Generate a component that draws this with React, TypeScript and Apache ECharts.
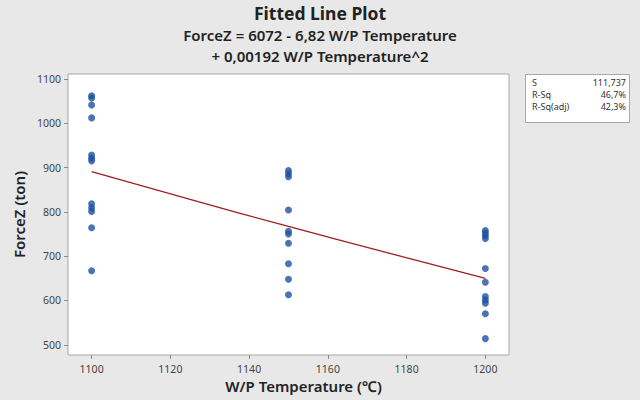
import React, { useEffect, useRef } from "react";
import * as echarts from "echarts";

const temps1100 = [1062, 1057, 1041, 1012, 928, 921, 915, 818, 809, 801, 764, 667];
const temps1150 = [893, 886, 879, 804, 756, 750, 729, 683, 648, 613];
const temps1200 = [758, 752, 746, 740, 672, 641, 609, 601, 594, 570, 514];
const fitX = [1100, 1125, 1150, 1175, 1200];
const fitY = [891, 828, 767, 708, 650];
const xTicks = [1100, 1120, 1140, 1160, 1180, 1200];
const yTicks = [500, 600, 700, 800, 900, 1000, 1100];
const statLabels = ["S", "R-Sq", "R-Sq(adj)"];
const statValues = ["111,737", "46,7%", "42,3%"];
const titleLines = [
  "Fitted Line Plot",
  "ForceZ = 6072 - 6,82 W/P Temperature",
  "+ 0,00192 W/P Temperature^2",
];

const FONT = "'Noto Sans', 'Open Sans', sans-serif";

export default function App() {
  const ref = useRef<HTMLDivElement>(null);
  useEffect(() => {
    if (!ref.current) return;
    const chart = echarts.init(ref.current, undefined, { renderer: "svg" });
    const points: number[][] = [];
    temps1100.forEach((v) => points.push([1100, v]));
    temps1150.forEach((v) => points.push([1150, v]));
    temps1200.forEach((v) => points.push([1200, v]));
    const fit = fitX.map((x, i) => [x, fitY[i]]);

    const statTexts: any[] = [];
    statLabels.forEach((l, i) => {
      statTexts.push({
        type: "text",
        left: 532,
        top: 78 + i * 12,
        style: { text: l, font: `9px ${FONT}`, fill: "#333" },
      });
      statTexts.push({
        type: "text",
        right: 14,
        top: 78 + i * 12,
        style: { text: statValues[i], font: `9px ${FONT}`, fill: "#333", align: "right" },
      });
    });

    chart.setOption({
      animation: false,
      backgroundColor: "#e8e8e8",
      textStyle: { fontFamily: FONT },
      title: [
        {
          text: titleLines[0],
          left: "center",
          top: -1,
          textStyle: { fontSize: 17.5, fontWeight: "bold", color: "#222", fontFamily: FONT },
        },
        {
          text: titleLines[1],
          left: "center",
          top: 22,
          textStyle: { fontSize: 15, fontWeight: 600, color: "#222", fontFamily: FONT },
        },
        {
          text: titleLines[2],
          left: "center",
          top: 43,
          textStyle: { fontSize: 15, fontWeight: 600, color: "#222", fontFamily: FONT },
        },
      ],
      grid: {
        left: 68,
        right: 131,
        top: 74,
        bottom: 45,
        show: true,
        backgroundColor: "#ffffff",
        borderColor: "#a8a8a8",
        borderWidth: 1,
      },
      xAxis: {
        type: "value",
        min: 1094,
        max: 1206,
        name: "W/P Temperature (℃)",
        nameLocation: "middle",
        nameGap: 23,
        nameTextStyle: {
          fontSize: 15,
          fontWeight: 600,
          color: "#222",
          padding: [0, 0, 0, 30],
        },
        axisLine: { show: false },
        splitLine: { show: false },
        axisTick: {
          show: true,
          length: 4,
          lineStyle: { color: "#888" },
          customValues: xTicks,
        },
        axisLabel: {
          fontSize: 10.5,
          color: "#444",
          margin: 8,
          customValues: xTicks,
          formatter: (v: number) => String(v),
        },
      },
      yAxis: {
        type: "value",
        min: 477,
        max: 1111,
        name: "ForceZ (ton)",
        nameLocation: "middle",
        nameGap: 42,
        nameRotate: 90,
        nameTextStyle: { fontSize: 15, fontWeight: 600, color: "#222" },
        axisLine: { show: false },
        splitLine: { show: false },
        axisTick: {
          show: true,
          length: 4,
          lineStyle: { color: "#888" },
          customValues: yTicks,
        },
        axisLabel: {
          fontSize: 10.5,
          color: "#444",
          margin: 7,
          customValues: yTicks,
          formatter: (v: number) => String(v),
        },
      },
      graphic: [
        {
          type: "rect",
          left: 525,
          top: 74,
          shape: { width: 104, height: 48 },
          style: { fill: "#ffffff", stroke: "#a8a8a8", lineWidth: 1 },
        },
        ...statTexts,
      ],
      series: [
        {
          type: "scatter",
          data: points,
          symbol: "circle",
          symbolSize: 7,
          itemStyle: { color: "#1d51a0" },
          z: 3,
        },
        {
          type: "line",
          data: fit,
          smooth: true,
          showSymbol: false,
          symbol: "none",
          lineStyle: { color: "#9c1f24", width: 1.3 },
          z: 2,
        },
      ],
    });
    return () => chart.dispose();
  }, []);
  return (
    <div
      ref={ref}
      style={{ position: "absolute", left: 0, top: 0, width: 640, height: 400 }}
    />
  );
}
